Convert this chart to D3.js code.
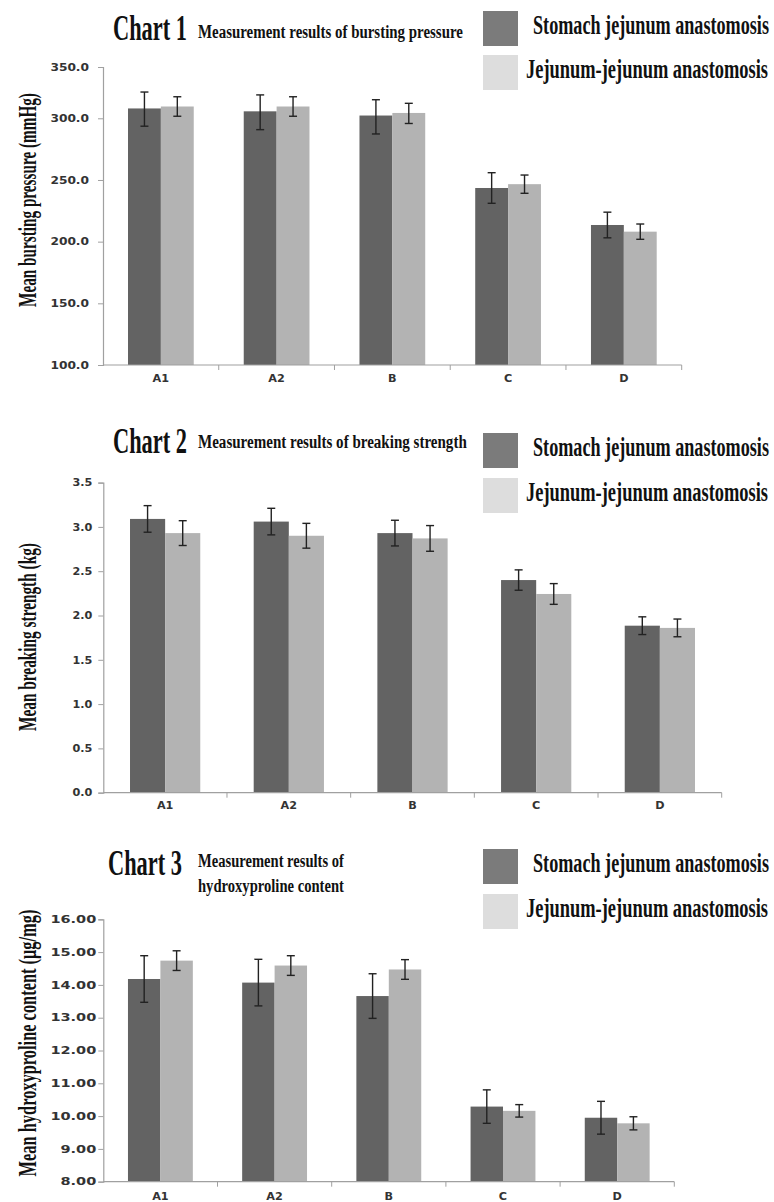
<!DOCTYPE html>
<html>
<head>
<meta charset="utf-8">
<script src="https://cdn.jsdelivr.net/npm/d3@7"></script>
<style>
  html, body { margin: 0; padding: 0; background: #fff; }
  svg { display: block; }
</style>
</head>
<body>
<svg id="chart" width="774" height="1202"></svg>
<script>
// ---------- data ----------
const categories = ["A1", "A2", "B", "C", "D"];
const seriesNames = ["Stomach jejunum anastomosis", "Jejunum-jejunum anastomosis"];

// Chart 1: bursting pressure (mmHg)
const burstStomach = [309.6, 306.8, 302.7, 243.5, 213.5];
const burstStomachErr = [16, 16, 15.4, 12.4, 10.4];
const burstJejunum = [311.5, 311.5, 305.2, 246.6, 208.1];
const burstJejunumErr = [9.5, 9.5, 9.4, 7.4, 6.2];
const burstTicks = [100, 150, 200, 250, 300, 350];

// Chart 2: breaking strength (kg)
const breakStomach = [3.09, 3.06, 2.93, 2.40, 1.885];
const breakStomachErr = [0.15, 0.15, 0.145, 0.115, 0.10];
const breakJejunum = [2.93, 2.90, 2.87, 2.243, 1.86];
const breakJejunumErr = [0.14, 0.14, 0.145, 0.117, 0.10];
const breakTicks = [0, 0.5, 1.0, 1.5, 2.0, 2.5, 3.0, 3.5];

// Chart 3: hydroxyproline content (μg/mg)
const hydroStomach = [14.18, 14.07, 13.66, 10.29, 9.95];
const hydroStomachErr = [0.71, 0.71, 0.68, 0.51, 0.50];
const hydroJejunum = [14.74, 14.59, 14.47, 10.16, 9.78];
const hydroJejunumErr = [0.30, 0.30, 0.30, 0.19, 0.20];
const hydroTicks = [8, 9, 10, 11, 12, 13, 14, 15, 16];

const svg = d3.select("#chart");
const barColors = ["#636363", "#b3b3b3"];
const legendColors = ["#7b7b7b", "#dddddd"];
const serif = "'Liberation Serif', 'Times New Roman', serif";
const sans = "'DejaVu Sans', Verdana, sans-serif";

// condensed bold serif text, squeezed horizontally to a given width
function condensed(g, txt, x, y, size, len, rotate) {
  const holder = g.append("g");
  const t = holder.append("text")
    .attr("font-family", serif)
    .attr("font-weight", "bold")
    .attr("font-size", size)
    .attr("fill", "#111")
    .attr("text-anchor", rotate ? "middle" : "start")
    .text(txt);
  const natural = t.node().getComputedTextLength();
  const sx = len / natural;
  holder.attr("transform", `translate(${x},${y})${rotate ? " rotate(-90)" : ""} scale(${sx},1)`);
  return t;
}

function drawChart(cfg) {
  const g = svg.append("g");
  const x = d3.scaleBand().domain(categories).range(cfg.xRange).padding(0);
  const y = d3.scaleLinear().domain(cfg.yDomain).range(cfg.yRange);
  const bw = x.bandwidth();
  const groupW = bw * 0.568;
  const x1 = d3.scaleBand().domain([0, 1]).range([0, groupW]).padding(0);

  const series = [cfg.s1, cfg.s2];
  const errs = [cfg.e1, cfg.e2];
  const base = cfg.yDomain[0];
  series.forEach((vals, si) => {
    g.append("g").selectAll("rect")
      .data(vals)
      .join("rect")
      .attr("x", (d, i) => x(categories[i]) + (bw - groupW) / 2 + x1(si))
      .attr("width", x1.bandwidth())
      .attr("y", d => y(d))
      .attr("height", d => y(base) - y(d))
      .attr("fill", barColors[si]);
  });

  // error bars
  series.forEach((vals, si) => {
    const eg = g.append("g").attr("stroke", "#222").attr("stroke-width", 1.4);
    vals.forEach((v, i) => {
      const cx = x(categories[i]) + (bw - groupW) / 2 + x1(si) + x1.bandwidth() / 2;
      const top = y(v + errs[si][i]);
      const bot = y(v - errs[si][i]);
      eg.append("line").attr("x1", cx).attr("x2", cx).attr("y1", top).attr("y2", bot);
      eg.append("line").attr("x1", cx - 4).attr("x2", cx + 4).attr("y1", top).attr("y2", top);
      eg.append("line").attr("x1", cx - 4).attr("x2", cx + 4).attr("y1", bot).attr("y2", bot);
    });
  });

  // y axis
  const yAxis = d3.axisLeft(y).tickValues(cfg.ticks).tickFormat(d3.format(cfg.fmt)).tickSizeOuter(0).tickSize(5);
  const ya = g.append("g").attr("transform", `translate(${cfg.xRange[0]},0)`).call(yAxis);
  ya.select(".domain").attr("stroke", "#a0a0a0").attr("stroke-width", 1.2);
  ya.selectAll(".tick line").attr("stroke", "#a0a0a0");
  ya.selectAll(".tick text")
    .attr("font-family", sans).attr("font-size", 10).attr("fill", "#333").attr("font-weight", "bold")
    .attr("x", -cfg.tickGap)
    .each(function () {
      const l = this.getComputedTextLength();
      d3.select(this).attr("textLength", l * cfg.tickStretch).attr("lengthAdjust", "spacingAndGlyphs");
    });

  // x axis (ticks at category boundaries)
  const x0 = cfg.xRange[0];
  const xa = g.append("g").attr("transform", `translate(0,${cfg.yRange[0]})`);
  xa.append("line").attr("x1", x0).attr("x2", cfg.xRange[1]).attr("y1", 0).attr("y2", 0)
    .attr("stroke", "#a0a0a0").attr("stroke-width", 1.2);
  const bounds = categories.map(c => x(c) + bw);
  xa.selectAll("line.tk").data(bounds).join("line").attr("class", "tk")
    .attr("x1", d => d).attr("x2", d => d).attr("y1", 0).attr("y2", 5).attr("stroke", "#a0a0a0");
  xa.selectAll("text").data(categories).join("text")
    .attr("x", d => x(d) + bw / 2)
    .attr("y", cfg.catDy)
    .attr("text-anchor", "middle")
    .attr("font-family", sans).attr("font-size", 10).attr("font-weight", "bold").attr("fill", "#333")
    .text(d => d)
    .each(function () {
      const l = this.getComputedTextLength();
      d3.select(this).attr("textLength", l * 1.12).attr("lengthAdjust", "spacingAndGlyphs");
    });

  // titles
  condensed(g, cfg.chartNo, cfg.titleX, cfg.titleY, 36, 74);
  cfg.subtitle.forEach(s => condensed(g, s.text, 198, s.y, 19, s.len));

  // legend
  for (let i = 0; i < 2; i++) {
    g.append("rect").attr("x", 483).attr("y", cfg.legendY[i]).attr("width", 35).attr("height", 35)
      .attr("fill", legendColors[i]);
    condensed(g, seriesNames[i], i === 0 ? 533 : 526, cfg.legendY[i] + 23, 27, i === 0 ? 236 : 242);
  }

  // y title
  condensed(g, cfg.yTitle, 36, cfg.yTitleC, 26, cfg.yTitleLen, true);
}

drawChart({
  s1: burstStomach, s2: burstJejunum, e1: burstStomachErr, e2: burstJejunumErr,
  xRange: [103, 681.7],
  yDomain: [100, 300, 350], yRange: [365, 118.3, 67],
  ticks: burstTicks, fmt: ".1f", tickGap: 14, tickStretch: 1.22,
  catDy: 17,
  chartNo: "Chart 1", titleX: 113, titleY: 40,
  subtitle: [{ text: "Measurement results of bursting pressure", y: 38, len: 265 }],
  legendY: [11, 55],
  yTitle: "Mean bursting pressure (mmHg)", yTitleC: 200, yTitleLen: 214
});

drawChart({
  s1: breakStomach, s2: breakJejunum, e1: breakStomachErr, e2: breakJejunumErr,
  xRange: [103.3, 721.7],
  yDomain: [0, 3.5], yRange: [792.7, 482.6],
  ticks: breakTicks, fmt: ".1f", tickGap: 11, tickStretch: 1.12,
  catDy: 16,
  chartNo: "Chart 2", titleX: 113, titleY: 453,
  subtitle: [{ text: "Measurement results of breaking strength", y: 448, len: 269 }],
  legendY: [433, 478],
  yTitle: "Mean breaking strength (kg)", yTitleC: 637, yTitleLen: 188
});

drawChart({
  s1: hydroStomach, s2: hydroJejunum, e1: hydroStomachErr, e2: hydroJejunumErr,
  xRange: [103.3, 674.3],
  yDomain: [8, 16], yRange: [1181.7, 919.3],
  ticks: hydroTicks, fmt: ".2f", tickGap: 7, tickStretch: 1.45,
  catDy: 18,
  chartNo: "Chart 3", titleX: 108, titleY: 875,
  subtitle: [{ text: "Measurement results of", y: 867, len: 146 },
             { text: "hydroxyproline content", y: 892, len: 146 }],
  legendY: [849, 894],
  yTitle: "Mean hydroxyproline content (μg/mg)", yTitleC: 1043, yTitleLen: 267
});
</script>
</body>
</html>
